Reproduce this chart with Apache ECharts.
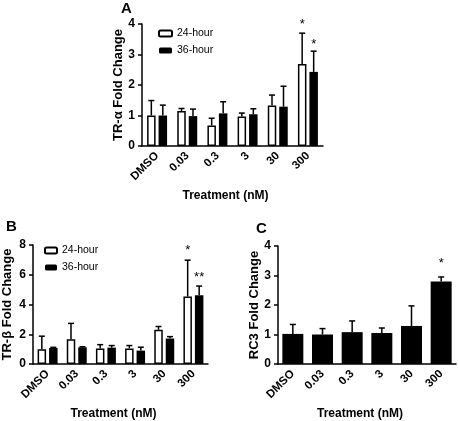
<!DOCTYPE html>
<html>
<head>
<meta charset="utf-8">
<script src="https://cdn.jsdelivr.net/npm/echarts@6/dist/echarts.min.js"></script>
<style>
html,body{margin:0;padding:0;background:#fff;}
#chart{width:458px;height:421px;}
</style>
</head>
<body>
<div id="chart"></div>
<script>
const categories = ['DMSO', '0.03', '0.3', '3', '30', '300'];

// Panel A: TR-alpha
const aMean24 = [1.00, 1.15, 0.67, 0.97, 1.33, 2.69];
const aUpper24 = [1.49, 1.23, 0.91, 1.08, 1.67, 3.70];
const aMean36 = [1.00, 0.98, 1.07, 1.04, 1.29, 2.43];
const aUpper36 = [1.34, 1.21, 1.45, 1.22, 1.96, 3.11];
const aSig24 = ['', '', '', '', '', '*'];
const aSig36 = ['', '', '', '', '', '*'];

// Panel B: TR-beta
const bMean24 = [1.00, 1.67, 1.05, 1.05, 2.30, 4.54];
const bUpper24 = [1.87, 2.73, 1.30, 1.24, 2.52, 6.98];
const bMean36 = [1.08, 1.12, 1.10, 0.90, 1.71, 4.62];
const bUpper36 = [1.12, 1.16, 1.24, 1.13, 1.84, 5.24];
const bSig24 = ['', '', '', '', '', '*'];
const bSig36 = ['', '', '', '', '', '**'];

// Panel C: RC3
const cMean = [1.02, 1.00, 1.08, 1.05, 1.29, 2.80];
const cUpper = [1.34, 1.20, 1.46, 1.22, 1.97, 2.95];
const cSig = ['', '', '', '', '', '*'];

const ticksA = [0, 1, 2, 3, 4];
const ticksB = [0, 2, 4, 6, 8];
const ticksC = [0, 1, 2, 3, 4];

const FONT = "'Liberation Sans', Arial, Helvetica, sans-serif";
const chart = echarts.init(document.getElementById('chart'), null, {renderer: 'canvas'});

function errSeries(name, gi, means, uppers, sigs, offset, starGap) {
  return {
    type: 'custom',
    name: name + '-err',
    xAxisIndex: gi, yAxisIndex: gi,
    z: 5,
    silent: true,
    data: categories.map((c, i) => [i, means[i], uppers[i]]),
    renderItem: function (params, api) {
      const ci = api.value(0);
      const p0 = api.coord([ci, api.value(1)]);
      const p1 = api.coord([ci, api.value(2)]);
      const x = p0[0] + offset;
      const style = {stroke: '#000', lineWidth: 1.5};
      const children = [
        {type: 'line', shape: {x1: x, y1: p0[1], x2: x, y2: p1[1]}, style: style},
        {type: 'line', shape: {x1: x - 3, y1: p1[1], x2: x + 3, y2: p1[1]}, style: style}
      ];
      const s = sigs[params.dataIndex];
      if (s) {
        children.push({type: 'text', style: {text: s, x: x, y: p1[1] - starGap, align: 'center', verticalAlign: 'middle', font: '13px ' + FONT, fill: '#000'}});
      }
      return {type: 'group', children: children};
    }
  };
}

function xAxisDef(gi) {
  return {
    type: 'category', gridIndex: gi, data: categories,
    axisLine: {lineStyle: {color: '#000', width: 1.5}},
    axisTick: {alignWithLabel: true, length: 4, lineStyle: {color: '#000', width: 1.5}},
    axisLabel: {rotate: 45, margin: 8, color: '#000', fontWeight: 'bold', fontSize: 11.5, fontFamily: FONT, interval: 0},
    name: 'Treatment (nM)', nameLocation: 'middle', nameGap: 44,
    nameTextStyle: {color: '#000', fontWeight: 'bold', fontSize: 12, fontFamily: FONT, padding: [0, 14, 0, 0]}
  };
}

function yAxisDef(gi, max, interval, name, gap) {
  return {
    type: 'value', gridIndex: gi, min: 0, max: max, interval: interval,
    splitLine: {show: false},
    axisLine: {show: true, lineStyle: {color: '#000', width: 1.5}},
    axisTick: {show: true, length: 4, lineStyle: {color: '#000', width: 1.5}},
    axisLabel: {margin: 7, color: '#000', fontWeight: 'bold', fontSize: 12, fontFamily: FONT},
    name: name, nameLocation: 'middle', nameGap: gap, nameRotate: 90,
    nameTextStyle: {color: '#000', fontWeight: 'bold', fontSize: 13, fontFamily: FONT}
  };
}

const whiteStyle = {color: '#fff', borderColor: '#000', borderWidth: 1.5};
const blackStyle = {color: '#000'};
const OFF = 5.75;

const option = {
  animation: false,
  backgroundColor: '#fff',
  textStyle: {fontFamily: FONT},
  grid: [
    {left: 142, top: 24, width: 181, height: 122},
    {left: 28, top: 245, width: 180, height: 121},
    {left: 278, top: 246, width: 178, height: 120}
  ],
  xAxis: [xAxisDef(0), xAxisDef(1), xAxisDef(2)],
  yAxis: [
    yAxisDef(0, 4, 1, 'TR-\u03b1 Fold Change', 17),
    yAxisDef(1, 8, 2, 'TR-\u03b2 Fold Change', 19),
    yAxisDef(2, 4, 1, 'RC3 Fold Change', 11)
  ],
  legend: [
    {left: 158, top: 28, padding: 0, orient: 'vertical', itemWidth: 13, itemHeight: 6, itemGap: 6,
     data: ['24-hour', '36-hour'], selectedMode: false,
     textStyle: {fontSize: 10.5, color: '#000', fontFamily: FONT}},
    {left: 44, top: 245, padding: 0, orient: 'vertical', itemWidth: 12, itemHeight: 6, itemGap: 6,
     data: ['24-hour', '36-hour'], selectedMode: false,
     textStyle: {fontSize: 10.5, color: '#000', fontFamily: FONT}}
  ],
  graphic: [
    {type: 'text', left: 121, top: 1, style: {text: 'A', font: 'bold 15px ' + FONT, fill: '#000'}},
    {type: 'text', left: 6, top: 219, style: {text: 'B', font: 'bold 15px ' + FONT, fill: '#000'}},
    {type: 'text', left: 256, top: 221, style: {text: 'C', font: 'bold 15px ' + FONT, fill: '#000'}}
  ],
  series: [
    {type: 'bar', name: '24-hour', xAxisIndex: 0, yAxisIndex: 0, data: aMean24, barWidth: 8.5, barGap: '35%', itemStyle: whiteStyle},
    {type: 'bar', name: '36-hour', xAxisIndex: 0, yAxisIndex: 0, data: aMean36, barWidth: 8.5, barGap: '35%', itemStyle: blackStyle},
    errSeries('a24', 0, aMean24, aUpper24, aSig24, -OFF, 9),
    errSeries('a36', 0, aMean36, aUpper36, aSig36, OFF, 7),
    {type: 'bar', name: '24-hour', xAxisIndex: 1, yAxisIndex: 1, data: bMean24, barWidth: 8.5, barGap: '35%', itemStyle: whiteStyle},
    {type: 'bar', name: '36-hour', xAxisIndex: 1, yAxisIndex: 1, data: bMean36, barWidth: 8.5, barGap: '35%', itemStyle: blackStyle},
    errSeries('b24', 1, bMean24, bUpper24, bSig24, -OFF, 10),
    errSeries('b36', 1, bMean36, bUpper36, bSig36, OFF, 9),
    {type: 'bar', name: 'RC3', xAxisIndex: 2, yAxisIndex: 2, data: cMean, barWidth: 21, itemStyle: blackStyle},
    errSeries('c', 2, cMean, cUpper, cSig, 0, 14)
  ]
};
chart.setOption(option);
</script>
</body>
</html>
